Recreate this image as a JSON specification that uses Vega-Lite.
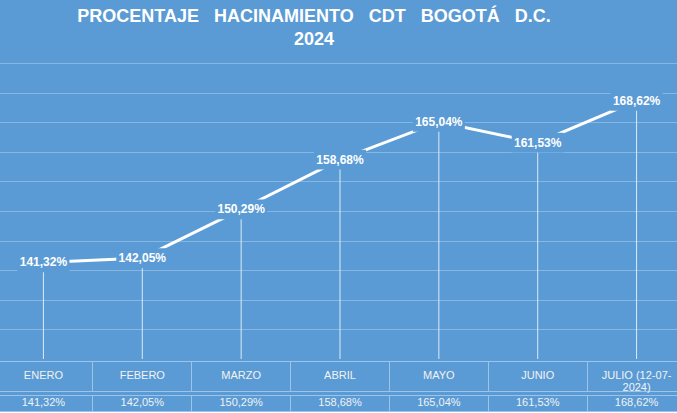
{
  "$schema": "https://vega.github.io/schema/vega-lite/v6.json",
  "background": "#5B9BD5",
  "padding": {"left": -7, "right": -8, "top": 8, "bottom": 0},
  "spacing": 0,
  "title": {
    "text": ["PROCENTAJE\u00a0\u00a0 HACINAMIENTO\u00a0\u00a0 CDT\u00a0\u00a0 BOGOTÁ\u00a0\u00a0 D.C.", "2024"],
    "font": "Liberation Sans",
    "fontSize": 18,
    "fontWeight": "bold",
    "color": "#FFFFFF",
    "lineHeight": 23,
    "anchor": "middle",
    "dx": -26,
    "offset": 14
  },
  "config": {
    "view": {"stroke": null},
    "axis": {"minExtent": 0, "maxExtent": 0},
    "concat": {"spacing": 0}
  },
  "datasets": {
    "hacinamiento": [
      {"mes": "ENERO", "porcentaje": 141.32, "etiqueta": "141,32%"},
      {"mes": "FEBERO", "porcentaje": 142.05, "etiqueta": "142,05%"},
      {"mes": "MARZO", "porcentaje": 150.29, "etiqueta": "150,29%"},
      {"mes": "ABRIL", "porcentaje": 158.68, "etiqueta": "158,68%"},
      {"mes": "MAYO", "porcentaje": 165.04, "etiqueta": "165,04%"},
      {"mes": "JUNIO", "porcentaje": 161.53, "etiqueta": "161,53%"},
      {"mes": "JULIO (12-07-\n2024)", "porcentaje": 168.62, "etiqueta": "168,62%"}
    ]
  },
  "vconcat": [
    {
      "width": 692,
      "height": 296,
      "data": {"name": "hacinamiento"},
      "encoding": {
        "x": {"field": "mes", "type": "nominal", "sort": null, "axis": null,
              "scale": {"type": "band", "paddingInner": 0, "paddingOuter": 0}},
        "y": {"field": "porcentaje", "type": "quantitative",
              "scale": {"domain": [125, 175], "nice": false, "zero": false},
              "axis": {"grid": true, "values": [130, 135, 140, 145, 150, 155, 160, 165, 170, 175],
                       "gridColor": "#86B6E2", "gridWidth": 1, "labels": false, "ticks": false,
                       "domain": false, "title": null}}
      },
      "layer": [
        {"mark": {"type": "rule", "color": "#DCEAF6", "strokeWidth": 1},
         "encoding": {"y2": {"datum": 125}}},
        {"mark": {"type": "line", "color": "#FFFFFF", "strokeWidth": 3}},
        {"mark": {"type": "point", "shape": "M-1,-0.38H1V0.38H-1Z", "size": 2704,
                  "filled": true, "fill": "#5B9BD5", "opacity": 1, "strokeWidth": 0}},
        {"mark": {"type": "text", "font": "Liberation Sans", "fontSize": 12, "fontWeight": "bold",
                  "color": "#FFFFFF", "align": "center", "baseline": "middle"},
         "encoding": {"text": {"field": "etiqueta"}}}
      ]
    },
    {
      "width": 692,
      "height": 30,
      "view": {"stroke": "#9CC3E8", "strokeWidth": 1},
      "data": {"name": "hacinamiento"},
      "mark": {"type": "text", "font": "Liberation Sans", "fontSize": 11, "color": "#F2F2F2",
               "align": "center", "baseline": "middle", "lineBreak": "\n", "lineHeight": 12},
      "encoding": {
        "x": {"field": "mes", "type": "nominal", "sort": null,
              "scale": {"type": "band", "paddingInner": 0, "paddingOuter": 0},
              "axis": {"grid": true, "bandPosition": 0, "gridColor": "#9CC3E8", "labels": false,
                       "ticks": false, "domain": false, "title": null}},
        "text": {"field": "mes"}
      }
    },
    {
      "width": 692,
      "height": 16,
      "view": {"stroke": "#9CC3E8", "strokeWidth": 1},
      "data": {"name": "hacinamiento"},
      "mark": {"type": "text", "font": "Liberation Sans", "fontSize": 11, "color": "#F2F2F2",
               "align": "center", "baseline": "middle"},
      "encoding": {
        "x": {"field": "mes", "type": "nominal", "sort": null,
              "scale": {"type": "band", "paddingInner": 0, "paddingOuter": 0},
              "axis": {"grid": true, "bandPosition": 0, "gridColor": "#9CC3E8", "labels": false,
                       "ticks": false, "domain": false, "title": null}},
        "text": {"field": "etiqueta"}
      }
    }
  ]
}
